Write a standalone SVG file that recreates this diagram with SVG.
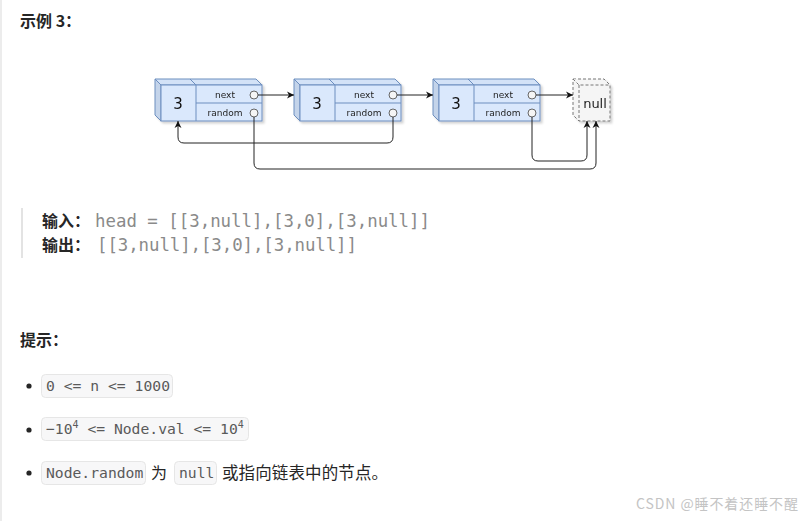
<svg xmlns="http://www.w3.org/2000/svg" width="811" height="521" viewBox="0 0 811 521">
<style>
.cn{font-family:"Noto Sans CJK SC","Noto Sans",sans-serif}
.b{font-weight:bold;fill:#262626;font-size:16px}
.mono{font-family:"DejaVu Sans Mono","Liberation Mono",monospace}
.inp{font-size:17.4px;fill:#8a8a8a}
.pill{fill:#f7f7f8;stroke:#e6e6e6;stroke-width:1}
.ptx{font-size:14.7px;fill:#5a5a5a}
.front{fill:#dae8fc;stroke:#6c8ebf;stroke-width:1}
.side{fill:#c4d4ea;stroke:#6c8ebf;stroke-width:1}
.top{fill:#d3e2f7;stroke:#6c8ebf;stroke-width:1}
.ln{stroke:#6c8ebf;stroke-width:1;fill:none}
.port{fill:#f5f5f5;stroke:#666;stroke-width:1}
.fld{font-family:"DejaVu Sans",sans-serif;font-size:9px;fill:#222;text-anchor:middle}
.val{font-family:"DejaVu Sans",sans-serif;font-size:15px;fill:#111;text-anchor:middle}
.nul{fill:#f5f5f5;stroke:#777;stroke-width:1;stroke-dasharray:3 2}
.conn path{fill:none;stroke:#222;stroke-width:1}
</style>
<defs>
<marker id="arr" markerWidth="8" markerHeight="8" refX="7" refY="4" orient="auto" markerUnits="userSpaceOnUse">
<path d="M0,0.5 L7,4 L0,7.5 L2,4 Z" fill="#111"/>
</marker>
<filter id="sh" x="-10%" y="-10%" width="130%" height="140%">
<feDropShadow dx="2" dy="2" stdDeviation="1.2" flood-color="#000" flood-opacity="0.18"/>
</filter>
</defs>
<rect width="811" height="521" fill="#fff"/>
<line x1="1" y1="0" x2="1" y2="521" stroke="#ececec" stroke-width="2"/>

<text class="cn b" x="20" y="27">示例 3：</text>

<g id="node1" filter="url(#sh)">
<path class="top" d="M155,79 L256,79 L262,85 L161,85 Z"/>
<path class="side" d="M155,79 L161,85 L161,121 L155,115 Z"/>
<rect class="front" x="161" y="85" width="101" height="36"/>
<path class="ln" d="M190,79 L196,85 M196,85 V121 M196,103 H262"/>
<circle class="port" cx="254" cy="95" r="4"/>
<circle class="port" cx="254" cy="113" r="4"/>
<text class="val" x="178" y="109">3</text>
<text class="fld" x="225" y="98">next</text>
<text class="fld" x="225" y="116">random</text>
</g>
<g id="node2" filter="url(#sh)">
<path class="top" d="M294,79 L395,79 L401,85 L300,85 Z"/>
<path class="side" d="M294,79 L300,85 L300,121 L294,115 Z"/>
<rect class="front" x="300" y="85" width="101" height="36"/>
<path class="ln" d="M329,79 L335,85 M335,85 V121 M335,103 H401"/>
<circle class="port" cx="393" cy="95" r="4"/>
<circle class="port" cx="393" cy="113" r="4"/>
<text class="val" x="317" y="109">3</text>
<text class="fld" x="364" y="98">next</text>
<text class="fld" x="364" y="116">random</text>
</g>
<g id="node3" filter="url(#sh)">
<path class="top" d="M433,79 L534,79 L540,85 L439,85 Z"/>
<path class="side" d="M433,79 L439,85 L439,121 L433,115 Z"/>
<rect class="front" x="439" y="85" width="101" height="36"/>
<path class="ln" d="M468,79 L474,85 M474,85 V121 M474,103 H540"/>
<circle class="port" cx="532" cy="95" r="4"/>
<circle class="port" cx="532" cy="113" r="4"/>
<text class="val" x="456" y="109">3</text>
<text class="fld" x="503" y="98">next</text>
<text class="fld" x="503" y="116">random</text>
</g>
<g id="nullnode" filter="url(#sh)">
<path class="nul" d="M573,79 L604,79 L610,85 L610,121 L579,121 L573,115 Z"/>
<path class="nul" d="M573,79 L579,85 H610 M579,85 V121" fill="none"/>
<text x="595" y="108" style="font-family:'DejaVu Sans',sans-serif;font-size:13px;fill:#222;text-anchor:middle">null</text>
</g>

<g id="connectors" class="conn">
<path d="M258,95 H294" marker-end="url(#arr)"/>
<path d="M397,95 H433" marker-end="url(#arr)"/>
<path d="M536,95 H573" marker-end="url(#arr)"/>
<path d="M393,117 V137 Q393,143 387,143 H184 Q178,143 178,137 V121" marker-end="url(#arr)"/>
<path d="M254,117 V163 Q254,169 260,169 H590 Q596,169 596,163 V121" marker-end="url(#arr)"/>
<path d="M532,117 V155 Q532,161 538,161 H581 Q587,161 587,155 V121" marker-end="url(#arr)"/>
</g>

<rect x="21" y="208" width="2" height="50" fill="#e3e3e3"/>
<text class="cn b" x="42" y="227">输入：</text>
<text class="mono inp" x="95" y="227" textLength="335" lengthAdjust="spacing">head = [[3,null],[3,0],[3,null]]</text>
<text class="cn b" x="42" y="251">输出：</text>
<text class="mono inp" x="97" y="251" textLength="260" lengthAdjust="spacing">[[3,null],[3,0],[3,null]]</text>

<text class="cn b" x="20" y="346">提示：</text>

<circle cx="29" cy="386" r="2.6" fill="#262626"/>
<rect class="pill" x="41.5" y="374.5" width="131" height="23" rx="4"/>
<text class="mono ptx" x="46" y="391" textLength="124" lengthAdjust="spacing">0 &lt;= n &lt;= 1000</text>

<circle cx="29" cy="430" r="2.6" fill="#262626"/>
<rect class="pill" x="41.5" y="417.5" width="207" height="23" rx="4"/>
<text class="mono ptx" x="46" y="434">−10<tspan font-size="10px" dy="-6">4</tspan><tspan dy="6"> &lt;= Node.val &lt;= 10</tspan><tspan font-size="10px" dy="-6">4</tspan></text>

<circle cx="29" cy="473" r="2.6" fill="#262626"/>
<rect class="pill" x="41.5" y="461.5" width="104" height="23" rx="4"/>
<text class="mono ptx" x="46" y="478">Node.random</text>
<text class="cn" x="151" y="479" style="font-size:16px;fill:#262626">为</text>
<rect class="pill" x="174.5" y="461.5" width="42" height="23" rx="4"/>
<text class="mono ptx" x="179" y="478">null</text>
<text class="cn" x="222" y="479" style="font-size:16.5px;fill:#262626" textLength="166" lengthAdjust="spacing">或指向链表中的节点。</text>

<text class="cn" x="636" y="509" style="font-size:14px;fill:#c4c4c4" textLength="162" lengthAdjust="spacing">CSDN @睡不着还睡不醒</text>
</svg>
